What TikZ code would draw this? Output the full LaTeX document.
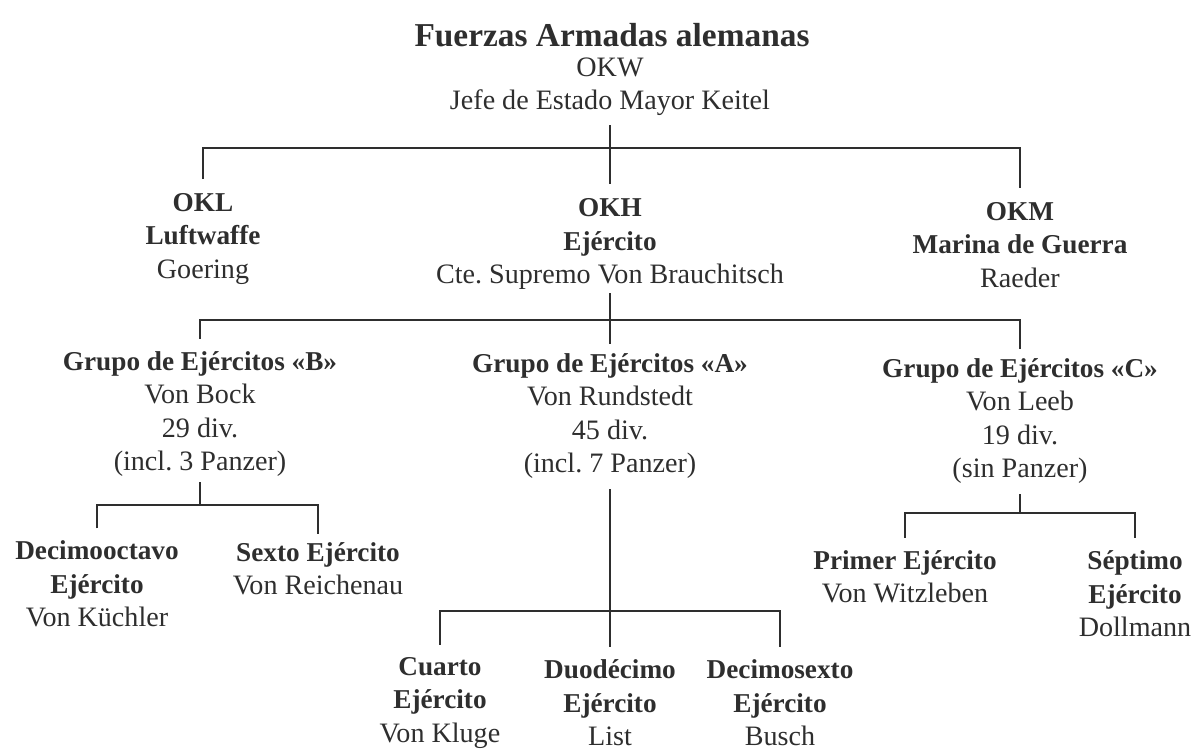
\documentclass[tikz,border=0pt]{standalone}
\usepackage{fontspec}
\setmainfont{Liberation Serif}
\frenchspacing
\definecolor{ink}{HTML}{2E2E2E}
\newcommand\hd[1]{{\bfseries\fontsize{15.5}{19}\selectfont #1}}
\tikzset{
	line/.style = {draw = ink, line width = 1.4pt},
	box/.style = {align = center, inner sep = 0pt, text = ink, font = \fontsize{16}{19}\selectfont},
}
\begin{document}
\begin{tikzpicture}[x = 0.02cm, y = -0.02cm]
		\useasboundingbox (0, 0) rectangle (1196, 751);
		\node[box, font = \bfseries\fontsize{19}{22}\selectfont] (head) at (612, 35) {Fuerzas Armadas alemanas};
		\node[box] (okw) at (610, 87) {OKW\\Jefe de Estado Mayor Keitel};
		\node[box] (okl) at (203, 239) {\hd{OKL}\\\hd{Luftwaffe}\\Goering};
		\node[box] (okh) at (610, 244) {\hd{OKH}\\\hd{Ejército}\\Cte. Supremo Von Brauchitsch};
		\node[box] (okm) at (1020, 245) {\hd{OKM}\\\hd{Marina de Guerra}\\Raeder};
		\foreach \name/\x/\y/\tag/\who/\num/\pz in {grb/200/414/B/Von Bock/29/incl. 3 Panzer, gra/610/416/A/Von Rundstedt/45/incl. 7 Panzer, grc/1020/421/C/Von Leeb/19/sin Panzer}{
			\node[box] (\name) at (\x, \y) {\hd{Grupo de Ejércitos «\tag»}\\\who\\\num\ div.\\(\pz)};}
		\node[box] (e18) at (97, 584) {\hd{Decimooctavo}\\\hd{Ejército}\\Von Küchler};
		\node[box] (e6) at (318, 569) {\hd{Sexto Ejército}\\Von Reichenau};
		\foreach \name/\x/\rank/\who in {e4/440/Cuarto/Von Kluge, e12/610/Duodécimo/List, e16/780/Decimosexto/Busch}{
			\node[box] (\name) at (\x, 703) {\hd{\rank}\\\hd{Ejército}\\\who};}
		\node[box] (e1) at (905, 577) {\hd{Primer Ejército}\\Von Witzleben};
		\node[box] (e7) at (1135, 594) {\hd{Séptimo}\\\hd{Ejército}\\Dollmann};
		% junctions
		\coordinate (j1) at (610, 148);
		\coordinate (j2) at (610, 320);
		\coordinate (j3) at (197, 505);
		\coordinate (j4) at (610, 611);
		\coordinate (j5) at (1018, 513);
		\draw[line] ([yshift = -5pt]okw.south) -- ([yshift = 8pt]okh.north);
		\draw[line] ([yshift = 8pt]okl.north) |- (j1) -| ([yshift = 8pt]okm.north);
		\draw[line] ([yshift = -2pt]okh.south) -- ([yshift = 5pt]gra.north);
		\draw[line] ([yshift = 7pt]grb.north) |- (j2) -| ([yshift = 5pt]grc.north);
		\draw[line] ([yshift = -3pt]grb.south) -- (grb.south |- j3);
		\draw[line] ([yshift = 7pt]e18.north) |- (j3) -| ([yshift = 5pt]e6.north);
		\draw[line] ([yshift = -6pt]gra.south) -- ([yshift = 7pt]e12.north);
		\draw[line] ([yshift = 7pt]e4.north) |- (j4) -| ([yshift = 7pt]e16.north);
		\draw[line] ([yshift = -6pt]grc.south) -- (grc.south |- j5);
		\draw[line] ([yshift = 7pt]e1.north) |- (j5) -| ([yshift = 7pt]e7.north);
\end{tikzpicture}
\end{document}
